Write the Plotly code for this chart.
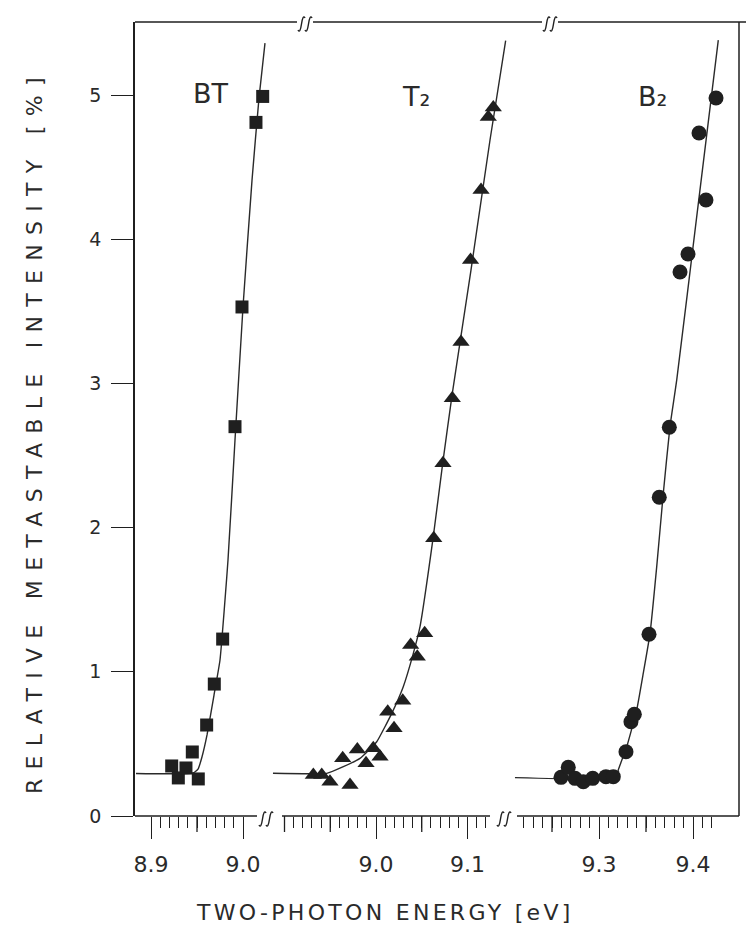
import plotly.graph_objects as go

# ---------------- data ----------------
# BT (squares)
bt_energy = [8.9225, 8.9297, 8.9380, 8.9449, 8.9514, 8.9605, 8.9688, 8.9779, 8.9913, 8.9989, 9.0141, 9.0214]
bt_intensity = [0.347, 0.264, 0.333, 0.444, 0.257, 0.631, 0.915, 1.227, 2.70, 3.53, 4.81, 4.99]
bt_fit_energy = [8.8837, 8.9457, 8.9511, 8.9554, 8.9609, 8.9685, 8.9750, 8.9837, 8.9913, 9.0000, 9.0098, 9.0174, 9.0239]
bt_fit_intensity = [0.295, 0.298, 0.325, 0.409, 0.562, 0.839, 1.082, 1.775, 2.607, 3.53, 4.41, 4.98, 5.36]

# T2 (triangles)
t2_energy = [8.9315, 8.9407, 8.9497, 8.9636, 8.9716, 8.9796, 8.9891, 8.9970, 9.0044, 9.0128, 9.0197, 9.0292,
             9.0379, 9.0451, 9.0532, 9.0631, 9.0732, 9.0834, 9.0929, 9.1033, 9.1148, 9.1227, 9.1282]
t2_intensity = [0.284, 0.284, 0.238, 0.400, 0.215, 0.462, 0.365, 0.469, 0.411, 0.723, 0.608, 0.800,
                1.186, 1.105, 1.267, 1.926, 2.446, 2.897, 3.287, 3.856, 4.341, 4.848, 4.914]
t2_fit_energy = [8.8874, 8.9461, 8.9643, 8.9825, 9.0008, 9.0172, 9.0298, 9.0408, 9.0481, 9.0626, 9.0729, 9.0834, 9.1038, 9.1246, 9.1417]
t2_fit_intensity = [0.296, 0.296, 0.342, 0.400, 0.515, 0.712, 0.897, 1.128, 1.313, 1.937, 2.446, 2.931, 3.786, 4.688, 5.377]

# B2 (circles)
b2_energy = [9.2596, 9.2673, 9.2745, 9.2833, 9.2933, 9.3074, 9.3152, 9.3287, 9.3340, 9.3376, 9.3532, 9.3641,
             9.3748, 9.3862, 9.3947, 9.4064, 9.4138, 9.4245]
b2_intensity = [0.268, 0.338, 0.261, 0.238, 0.261, 0.273, 0.273, 0.446, 0.654, 0.705, 1.260, 2.210,
                2.696, 3.773, 3.897, 4.736, 4.272, 4.979]
b2_fit_energy = [9.2106, 9.3188, 9.3205, 9.3295, 9.3401, 9.3471, 9.3543, 9.3614, 9.3684, 9.3755, 9.3827, 9.4048, 9.4269]
b2_fit_intensity = [0.266, 0.266, 0.319, 0.480, 0.735, 0.990, 1.267, 1.729, 2.238, 2.700, 3.024, 4.202, 5.381]

# tick labels
y_tick_values = [0, 1, 2, 3, 4, 5]
y_tick_labels = ["0", "1", "2", "3", "4", "5"]
x_tick_values = [[8.9, 9.0], [9.0, 9.1], [9.3, 9.4]]
x_tick_labels = [["8.9", "9.0"], ["9.0", "9.1"], ["9.3", "9.4"]]
x_mid_ticks = [[8.95], [8.90, 8.95, 9.05], [9.25, 9.35]]
x_minor_span = [(8.90, 9.00), (8.90, 9.12), (9.22, 9.42)]

panel_labels = ["BT", "T\u2082", "B\u2082"]

# ---------------- layout geometry ----------------
W, H = 746, 945
L, R, T, B = 135, 739, 22, 816
Y_PX_PER_UNIT = 144.2
FONT = "DejaVu Sans"
INK = "#1f1f1f"

def pxx(px):
    return (px - L) / (R - L)

def pxy(py):
    return (B - py) / (B - T)

# per panel: reference energy, its pixel x, pixels per eV, domain px, bottom segment px
panels = [
    dict(ref=8.9, ref_px=151, scale=920, dom=(135, 270), seg=(135, 257)),
    dict(ref=9.0, ref_px=376, scale=915, dom=(270, 510), seg=(282, 490)),
    dict(ref=9.3, ref_px=599, scale=940, dom=(510, 739), seg=(517, 739)),
]

def ev(p, px):
    return p["ref"] + (px - p["ref_px"]) / p["scale"]

fig = go.Figure()

series = [
    (bt_energy, bt_intensity, bt_fit_energy, bt_fit_intensity, "square", 13),
    (t2_energy, t2_intensity, t2_fit_energy, t2_fit_intensity, "triangle-up", 15),
    (b2_energy, b2_intensity, b2_fit_energy, b2_fit_intensity, "circle", 15),
]
axnames = ["x", "x2", "x3"]
for i, (ex, iy, fx, fy, sym, size) in enumerate(series):
    fig.add_trace(go.Scatter(x=fx, y=fy, mode="lines", xaxis=axnames[i], yaxis="y",
                             line=dict(color="#2a2a2a", width=1.4, shape="spline", smoothing=0.4),
                             showlegend=False, hoverinfo="skip"))
    fig.add_trace(go.Scatter(x=ex, y=iy, mode="markers", xaxis=axnames[i], yaxis="y",
                             marker=dict(symbol=sym, size=size, color=INK, line=dict(width=0)),
                             cliponaxis=False, showlegend=False))

layout = dict(
    width=W, height=H,
    margin=dict(l=L, r=W - R, t=T, b=H - B, pad=0),
    plot_bgcolor="white", paper_bgcolor="white",
    showlegend=False,
    font=dict(family=FONT, color=INK),
    yaxis=dict(domain=[0, 1], range=[0, (B - T) / Y_PX_PER_UNIT], anchor="x",
               showline=True, linecolor=INK, linewidth=1.5, mirror=False,
               showgrid=False, zeroline=False,
               tickmode="array", tickvals=y_tick_values, ticktext=y_tick_labels,
               ticks="outside", ticklen=22, tickwidth=1.4, tickcolor=INK,
               tickfont=dict(size=19, family=FONT, color="#2a2a2a"), ticklabelstandoff=6),
)

shapes = []
for k, p in enumerate(panels):
    lo, hi = x_minor_span[k]
    n = int(round((hi - lo) / 0.01))
    minor_vals = [round(lo + 0.01 * j, 3) for j in range(n + 1)]
    rng = [ev(p, p["dom"][0]), ev(p, p["dom"][1])]
    dom = [pxx(p["dom"][0]), pxx(p["dom"][1])]
    name = "xaxis" if k == 0 else "xaxis%d" % (k + 1)
    layout[name] = dict(
        domain=dom, range=rng, anchor="y",
        showline=False, showgrid=False, zeroline=False,
        tickmode="array", tickvals=x_tick_values[k], ticktext=x_tick_labels[k],
        ticks="outside", ticklen=22, tickwidth=1.4, tickcolor=INK,
        tickfont=dict(size=22, family=FONT, color="#2a2a2a"), ticklabelstandoff=7,
        minor=dict(tickmode="array", tickvals=minor_vals, ticks="outside", ticklen=11,
                   tickwidth=1.2, tickcolor=INK, showgrid=False),
    )
    # medium-length ticks at the half-tenths
    for v in x_mid_ticks[k]:
        shapes.append(dict(type="line", xref=axnames[k], yref="paper", x0=v, x1=v,
                           y0=0, y1=-16 / (B - T), line=dict(color=INK, width=1.3)))

fig.update_layout(**layout)

# frame pieces (broken axes)
for p in panels:
    shapes.append(dict(type="line", xref="paper", yref="paper",
                       x0=pxx(p["seg"][0]), x1=pxx(p["seg"][1]), y0=0, y1=0,
                       line=dict(color=INK, width=1.5)))
for a, b in [(135, 297), (313, 542), (558, 746)]:
    shapes.append(dict(type="line", xref="paper", yref="paper",
                       x0=pxx(a), x1=pxx(b), y0=1, y1=1, line=dict(color=INK, width=1.4)))
shapes.append(dict(type="line", xref="paper", yref="paper", x0=1, x1=1, y0=0, y1=1,
                   line=dict(color=INK, width=1.5)))


def break_mark(cx, cy):
    out = []
    for dx in (-3.5, 3.5):
        x = cx + dx
        pts = [(x - 3.5, cy + 6), (x - 1.5, cy + 10), (x, cy), (x + 1.5, cy - 10), (x + 3.5, cy - 6)]
        P = [(pxx(a), pxy(b)) for a, b in pts]
        path = "M %.5f %.5f Q %.5f %.5f %.5f %.5f Q %.5f %.5f %.5f %.5f" % (
            P[0][0], P[0][1], P[1][0], P[1][1], P[2][0], P[2][1], P[3][0], P[3][1], P[4][0], P[4][1])
        out.append(dict(type="path", xref="paper", yref="paper", path=path,
                        line=dict(color=INK, width=1.4)))
    return out


for (bx, by) in [(266, 819), (504, 819), (305, 24), (550, 24)]:
    shapes.extend(break_mark(bx, by))
fig.update_layout(shapes=shapes)

ann = []
for txt, (lx, ly) in zip(panel_labels, [(211, 94), (416, 97), (652, 97)]):
    ann.append(dict(text=txt, xref="paper", yref="paper", x=pxx(lx), y=pxy(ly),
                    showarrow=False, xanchor="center", yanchor="middle",
                    font=dict(size=27, family=FONT, color="#2a2a2a")))
ann.append(dict(text='<span style="letter-spacing:3.3px">TWO-PHOTON ENERGY [eV]</span>',
                xref="paper", yref="paper", x=pxx(385), y=pxy(912),
                showarrow=False, xanchor="center", yanchor="middle",
                font=dict(size=22, family=FONT, color="#2a2a2a")))
ann.append(dict(text='<span style="letter-spacing:9.3px">RELATIVE METASTABLE INTENSITY [%]</span>',
                xref="paper", yref="paper", x=pxx(34), y=pxy(431), textangle=-90,
                showarrow=False, xanchor="center", yanchor="middle",
                font=dict(size=22, family=FONT, color="#2a2a2a")))
fig.update_layout(annotations=ann)

fig.write_html("out.html", config={"displayModeBar": False},
               post_script="document.body.style.margin='0';document.body.style.padding='0';")
